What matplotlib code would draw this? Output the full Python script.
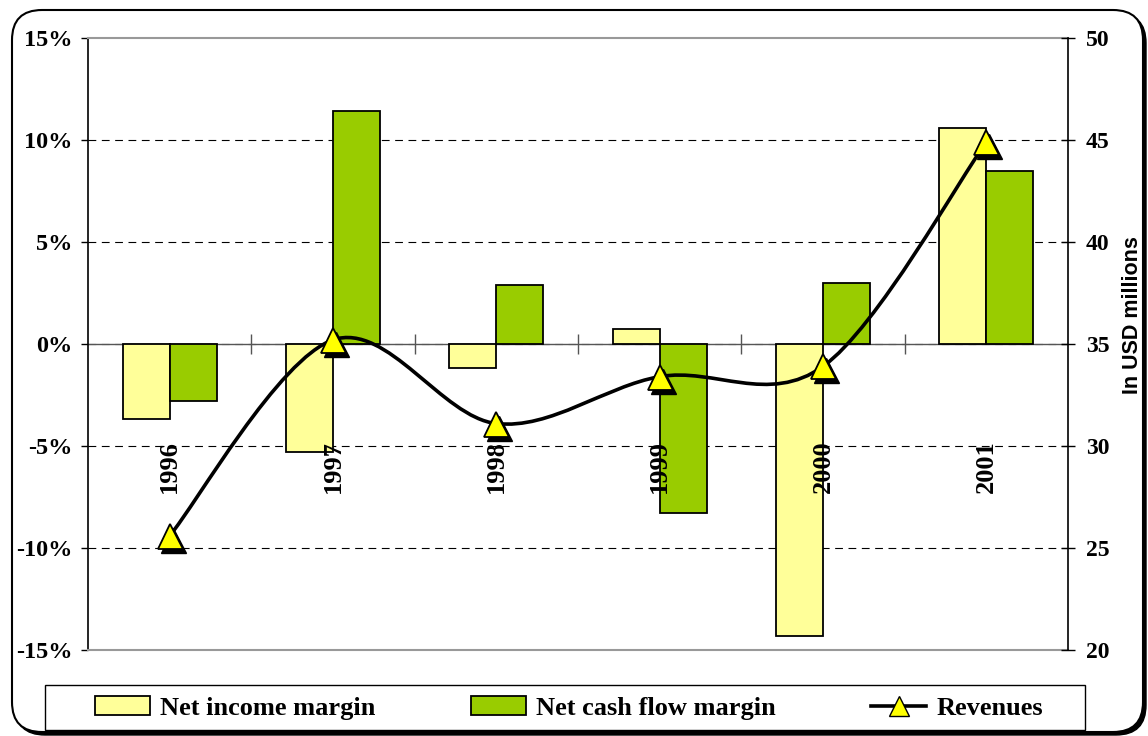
import numpy as np
import matplotlib.pyplot as plt
from matplotlib.path import Path
from matplotlib.patches import PathPatch, Patch, FancyBboxPatch, Rectangle
from matplotlib.lines import Line2D
from matplotlib.transforms import ScaledTranslation, IdentityTransform

# Chart data
years = ['1996', '1997', '1998', '1999', '2000', '2001']
net_income_margin = [-3.7, -5.3, -1.2, 0.75, -14.3, 10.6]    # %
net_cash_flow_margin = [-2.8, 11.4, 2.9, -8.3, 3.0, 8.5]     # %
revenues = [25.6, 35.2, 31.1, 33.4, 33.9, 44.9]              # USD millions

left_ticks = [15, 10, 5, 0, -5, -10, -15]
left_tick_labels = ['15%', '10%', '5%', '0%', '-5%', '-10%', '-15%']
right_ticks = [20, 25, 30, 35, 40, 45, 50]

yellow = '#FFFF99'
green = '#99CC00'
serif = 'Liberation Serif'

fig = plt.figure(figsize=(11.48, 7.36), dpi=100)
ax = fig.add_axes([88/1148, 1-650/736, 980/1148, 612/736])
ax.patch.set_alpha(0)
ax2 = ax.twinx()

x = np.arange(len(years))
w = 0.288

# Bars
ax.bar(x - w/2, net_income_margin, w, color=yellow, edgecolor='black', linewidth=1.3, zorder=3)
ax.bar(x + w/2, net_cash_flow_margin, w, color=green, edgecolor='black', linewidth=1.3, zorder=3)

ax.set_xlim(-0.5, len(years) - 0.5)
ax.set_ylim(-15, 15)
ax.set_xticks([])

# Grid lines and the category axis at 0
for v in left_ticks[1:-1]:
    ax.axhline(v, color='black', lw=0.8, ls=(0, (7, 5)), zorder=1)
ax.axhline(0, color='#555555', lw=1.0, zorder=2)
ax.plot(np.arange(0.5, len(years) - 0.5), np.zeros(len(years) - 1), ls='none',
        marker='|', ms=14, mew=1.0, color='#555555', zorder=2)

# Year labels sit below the category axis
for i, yr in enumerate(years):
    ax.text(i, -4.7, yr, rotation=90, ha='center', va='top',
            fontsize=19, fontweight='bold', family=serif, zorder=5)

# Left axis
ax.set_yticks(left_ticks)
ax.set_yticklabels(left_tick_labels, fontsize=17.5, fontweight='bold', family=serif)
ax.tick_params(axis='y', direction='out', length=5, width=1, pad=6)
for s in ['top', 'bottom']:
    ax.spines[s].set_color('#999999')
    ax.spines[s].set_linewidth(1.5)
ax.spines['left'].set_linewidth(1.2)
ax.spines['right'].set_visible(False)

# Revenues: smoothed line (cubic Bezier segments through the data points)
pts = np.column_stack([x, revenues]).astype(float)
n = len(pts)
verts = [pts[0]]
codes = [Path.MOVETO]
for i in range(n - 1):
    p_prev = pts[max(i - 1, 0)]
    p0 = pts[i]
    p1 = pts[i + 1]
    p_next = pts[min(i + 2, n - 1)]
    c1 = p0 + (p1 - p_prev) / 6
    c2 = p1 - (p_next - p0) / 6
    verts += [c1, c2, p1]
    codes += [Path.CURVE4] * 3
ax2.add_patch(PathPatch(Path(verts, codes), fill=False, edgecolor='black', lw=2.6, zorder=4))

shadow = ax2.transData + ScaledTranslation(3/100, -4/100, fig.dpi_scale_trans)
ax2.plot(x, revenues, ls='none', marker='^', ms=18, color='black', mec='black',
         transform=shadow, zorder=5)
ax2.plot(x, revenues, ls='none', marker='^', ms=18, color='#FFFF00', mec='black',
         mew=1.3, zorder=6)

ax2.set_ylim(20, 50)
ax2.set_yticks(right_ticks)
ax2.set_yticklabels([str(t) for t in right_ticks], fontsize=17, fontweight='bold', family=serif)
ax2.tick_params(axis='y', direction='inout', length=10, width=1, pad=8)
for s in ['top', 'bottom', 'left']:
    ax2.spines[s].set_visible(False)
ax2.spines['right'].set_linewidth(1.2)

fig.text(1133/1148, 1-315/736, 'In USD millions', rotation=90, ha='center', va='center',
         fontsize=15.5, fontweight='bold', family='Liberation Sans')

# Legend
handles = [
    Patch(facecolor=yellow, edgecolor='black', lw=1.3),
    Patch(facecolor=green, edgecolor='black', lw=1.3),
    Line2D([], [], color='black', lw=2.6, marker='^', ms=15, mfc='#FFFF00', mec='black'),
]
labels = ['Net income margin', 'Net cash flow margin', 'Revenues']
fig.legend(handles, labels, loc='center', bbox_to_anchor=(569/1148, 1-708/736),
           ncol=3, frameon=False, handlelength=2.1, handletextpad=0.38,
           columnspacing=3.6, prop={'family': serif, 'weight': 'bold', 'size': 19})
fig.patches.append(Rectangle((45/1148, 1-730/736), 1040/1148, 45/736, transform=fig.transFigure,
                             fill=False, edgecolor='black', lw=1.0))

# Rounded outer border with a shadow on the lower right
fig.patches.append(FancyBboxPatch((15, 1), 1131, 722, boxstyle='round,pad=0,rounding_size=30',
                                  transform=IdentityTransform(), facecolor='black',
                                  edgecolor='black', lw=1.0, zorder=-3))
fig.patches.append(FancyBboxPatch((12, 4), 1131, 722, boxstyle='round,pad=0,rounding_size=30',
                                  transform=IdentityTransform(), facecolor='white',
                                  edgecolor='black', lw=1.5, zorder=-2))

fig.savefig('out.png', dpi=100)
